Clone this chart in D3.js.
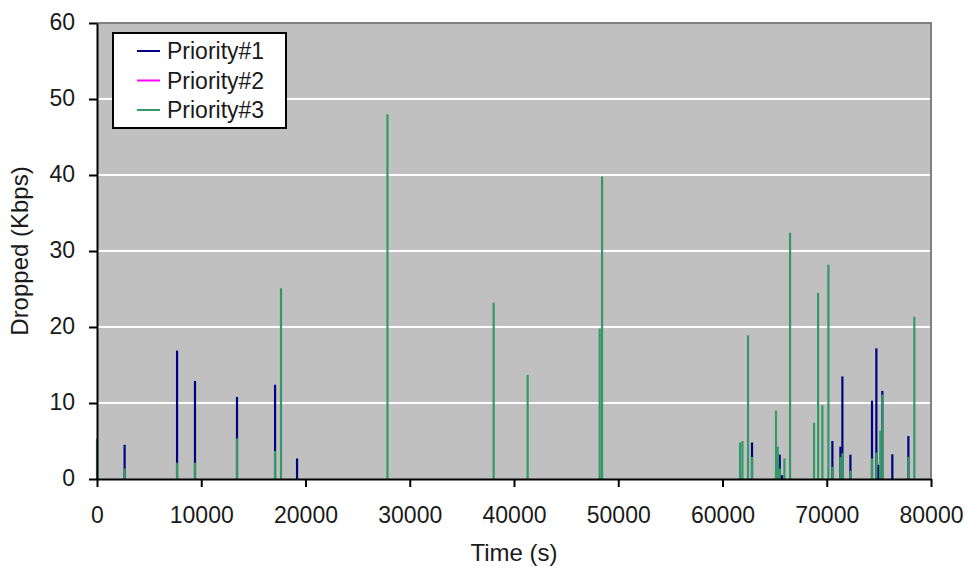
<!DOCTYPE html>
<html>
<head>
<meta charset="utf-8">
<script src="https://cdn.jsdelivr.net/npm/d3@7"></script>
<style>
  html, body { margin: 0; padding: 0; background: #ffffff; }
  svg { display: block; font-family: "Liberation Sans", Arial, sans-serif; }
</style>
</head>
<body>
<svg id="chart" width="968" height="568"></svg>
<script>
// Dropped traffic per priority class over time (spikes at event times)
const seriesNames = ["Priority#1", "Priority#2", "Priority#3"];
const seriesColors = ["#000080", "#FF00FF", "#339966"];

const p1Times  = [2650, 7680, 9400, 13430, 17080, 19190, 62830, 65490, 65710, 70540, 71310, 71500, 72270, 74340, 74760, 74950, 75330, 76290, 77830];
const p1Values = [4.5, 16.9, 12.9, 10.8, 12.4, 2.7, 4.8, 3.2, 0.5, 5.0, 4.25, 13.5, 3.2, 10.3, 17.2, 1.85, 11.6, 3.25, 5.65];

const p2Times  = [];
const p2Values = [];

const p3Times  = [0, 2650, 7680, 9400, 13430, 17080, 17650, 27860, 38050, 41310, 48220, 48450, 61680, 61910, 62450, 62830, 65130, 65300, 65490, 65940, 66480, 68780, 69170, 69580, 70160, 70540, 71310, 71500, 72270, 74340, 74760, 75140, 75330, 77830, 78400];
const p3Values = [5.3, 1.4, 2.15, 2.15, 5.35, 3.7, 25.1, 48.0, 23.2, 13.7, 19.8, 39.8, 4.8, 5.0, 18.9, 2.9, 9.0, 4.25, 1.4, 2.7, 32.4, 7.4, 24.5, 9.7, 28.2, 1.6, 2.9, 3.4, 1.1, 2.7, 3.5, 6.35, 11.1, 2.9, 21.35];

const xTicks = [0, 10000, 20000, 30000, 40000, 50000, 60000, 70000, 80000];
const yTicks = [0, 10, 20, 30, 40, 50, 60];

const seriesData = [
  { times: p1Times, values: p1Values },
  { times: p2Times, values: p2Values },
  { times: p3Times, values: p3Values }
];

const margin = { left: 97, right: 37, top: 23, bottom: 89 };
const W = 968, H = 568;
const x0 = margin.left, x1 = W - margin.right;
const y0 = H - margin.bottom, y1 = margin.top;

const x = d3.scaleLinear().domain([0, 80000]).range([x0, x1]);
const y = d3.scaleLinear().domain([0, 60]).range([y0, y1]);

const svg = d3.select("#chart");

// Plot background
svg.append("rect")
  .attr("x", x0).attr("y", y1)
  .attr("width", x1 - x0).attr("height", y0 - y1)
  .attr("fill", "#C0C0C0");

// Horizontal gridlines
svg.append("g").selectAll("line")
  .data(yTicks.filter(d => d > 0 && d < 60))
  .join("line")
  .attr("x1", x0).attr("x2", x1)
  .attr("y1", d => y(d)).attr("y2", d => y(d))
  .attr("stroke", "#ffffff").attr("stroke-width", 2);

// Top and right frame
svg.append("path")
  .attr("d", `M${x0},${y1}H${x1}V${y0}`)
  .attr("fill", "none").attr("stroke", "#808080").attr("stroke-width", 2);

// Spikes, series drawn in order so later series sit on top
seriesData.forEach((s, i) => {
  const pts = s.times.map((t, j) => ({ t, v: s.values[j] }));
  svg.append("g").selectAll("line")
    .data(pts)
    .join("line")
    .attr("x1", d => x(d.t)).attr("x2", d => x(d.t))
    .attr("y1", y(0)).attr("y2", d => y(d.v))
    .attr("stroke", seriesColors[i])
    .attr("stroke-width", 2.2);
});

// Axes
const yAxis = svg.append("g")
  .attr("transform", `translate(${x0},0)`)
  .call(d3.axisLeft(y).tickValues(yTicks).tickSize(8).tickPadding(14).tickSizeOuter(0));
const xAxis = svg.append("g")
  .attr("transform", `translate(0,${y0})`)
  .call(d3.axisBottom(x).tickValues(xTicks).tickFormat(d3.format("d")).tickSize(8).tickPadding(20).tickSizeOuter(0));

[yAxis, xAxis].forEach(g => {
  g.select(".domain").attr("stroke", "#000").attr("stroke-width", 2);
  g.selectAll(".tick line").attr("stroke", "#000").attr("stroke-width", 2);
  g.selectAll(".tick text")
    .attr("font-size", 23)
    .attr("font-family", "Liberation Sans, Arial, sans-serif")
    .attr("fill", "#1a1a1a");
});
yAxis.selectAll(".tick text").attr("dy", "0.3em");

// Axis titles
svg.append("text")
  .attr("x", (x0 + x1) / 2).attr("y", 561)
  .attr("text-anchor", "middle")
  .attr("font-size", 24).attr("fill", "#1a1a1a")
  .text("Time (s)");

svg.append("text")
  .attr("transform", `translate(28,${(y0 + y1) / 2}) rotate(-90)`)
  .attr("text-anchor", "middle")
  .attr("font-size", 24).attr("fill", "#1a1a1a")
  .text("Dropped (Kbps)");

// Legend
const legend = svg.append("g");
legend.append("rect")
  .attr("x", 113).attr("y", 33)
  .attr("width", 173).attr("height", 95)
  .attr("fill", "#ffffff").attr("stroke", "#000").attr("stroke-width", 2);

seriesNames.forEach((name, i) => {
  const ly = 51 + i * 29.5;
  legend.append("line")
    .attr("x1", 137).attr("x2", 160)
    .attr("y1", ly).attr("y2", ly)
    .attr("stroke", seriesColors[i]).attr("stroke-width", 2);
  legend.append("text")
    .attr("x", 167).attr("y", ly + 8)
    .attr("font-size", 23).attr("fill", "#1a1a1a")
    .text(name);
});
</script>
</body>
</html>
